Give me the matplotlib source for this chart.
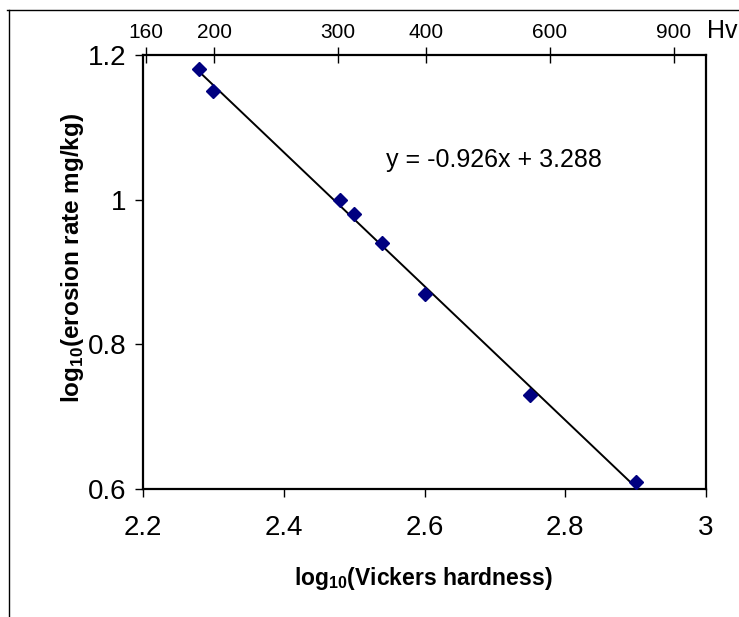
import numpy as np
import matplotlib
matplotlib.use("Agg")
import matplotlib.pyplot as plt
from matplotlib.lines import Line2D

# Data
log_hv = [2.28, 2.30, 2.48, 2.50, 2.54, 2.60, 2.75, 2.90]
log_erosion = [1.18, 1.15, 1.00, 0.98, 0.94, 0.87, 0.73, 0.61]
slope = -0.926
intercept = 3.288
x_ticks = [2.2, 2.4, 2.6, 2.8, 3.0]
x_ticklabels = ["2.2", "2.4", "2.6", "2.8", "3"]
y_ticks = [0.6, 0.8, 1.0, 1.2]
y_ticklabels = ["0.6", "0.8", "1", "1.2"]
hv_values = [160, 200, 300, 400, 600, 900]

plt.rcParams['font.family'] = ['Liberation Sans', 'DejaVu Sans']
plt.rcParams['mathtext.fontset'] = 'custom'
plt.rcParams['mathtext.rm'] = 'Liberation Sans'
plt.rcParams['mathtext.bf'] = 'Liberation Sans:bold'

W, H = 739, 617
fig = plt.figure(figsize=(W / 100, H / 100), dpi=100)
ax = fig.add_axes([143 / W, 1 - 489 / H, (706 - 143) / W, (489 - 55) / H])

ax.plot(log_hv, log_erosion, linestyle='none', marker='D', ms=7.5,
        color='#000080', zorder=3)
fx = np.array([min(log_hv), max(log_hv)])
ax.plot(fx, slope * fx + intercept, color='black', lw=1.4, zorder=2)

ax.set_xlim(2.2, 3.0)
ax.set_ylim(0.6, 1.2)
ax.set_xticks(x_ticks)
ax.set_xticklabels(x_ticklabels)
ax.set_yticks(y_ticks)
ax.set_yticklabels(y_ticklabels)
ax.tick_params(axis='both', direction='out', length=6, width=1, labelsize=20,
               colors='black')
ax.tick_params(axis='x', pad=13)
ax.tick_params(axis='y', pad=6)
for s in ax.spines.values():
    s.set_linewidth(1.6)
    s.set_color('black')

fig.text(423 / W, 1 - 578 / H, r"log$_{\mathbf{10}}$(Vickers hardness)",
         fontsize=16.5, fontweight='bold', ha='center', va='center')
fig.text(73 / W, 1 - 258 / H, r"log$_{\mathbf{10}}$(erosion rate mg/kg)",
         fontsize=17.5, fontweight='bold', ha='center', va='center',
         rotation=90)

ax.text(2.546, 1.055, "y = -0.926x + 3.288", fontsize=18,
        ha='left', va='center')

# Top Hv axis
ax2 = ax.twiny()
ax2.set_xlim(ax.get_xlim())
ax2.set_xticks(np.log10(hv_values))
ax2.set_xticklabels([str(v) for v in hv_values])
ax2.tick_params(axis='x', direction='inout', length=12, width=1, labelsize=15,
                pad=3)
for s in ax2.spines.values():
    s.set_visible(False)
fig.text(707 / W, 1 - 31 / H, "Hv", fontsize=18, ha='left', va='center')

# Outer frame (partial)
fig.add_artist(Line2D([7 / W, 1.0], [1 - 10 / H, 1 - 10 / H],
                      transform=fig.transFigure, color='black', lw=1))
fig.add_artist(Line2D([9 / W, 9 / W], [1 - 10 / H, 0.0],
                      transform=fig.transFigure, color='black', lw=1))

fig.savefig("out.png", dpi=100)
